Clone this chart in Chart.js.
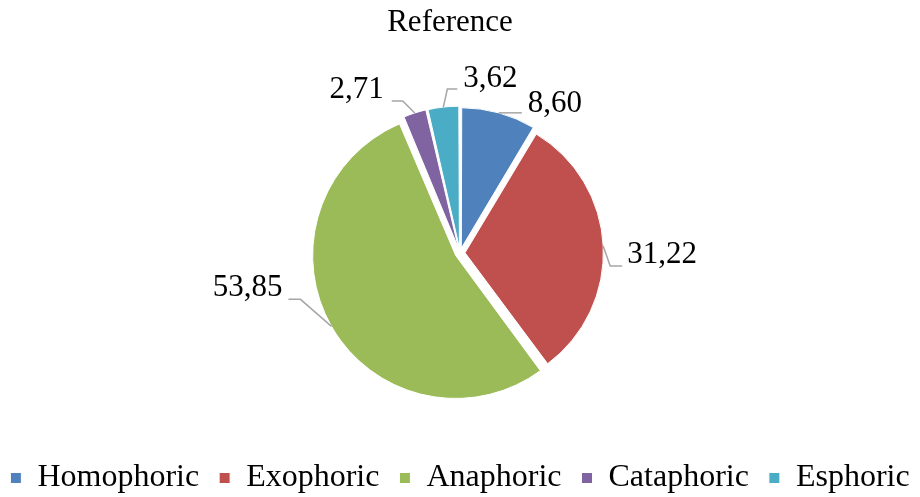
<!DOCTYPE html>
<html>
<head>
<meta charset="utf-8">
<script src="https://cdn.jsdelivr.net/npm/chart.js"></script>
<style>
  html, body { margin: 0; padding: 0; background: #fff; }
</style>
</head>
<body>
<canvas id="chart" width="920" height="497"></canvas>
<script>
const chartTitle = 'Reference';
const categories = ['Homophoric', 'Exophoric', 'Anaphoric', 'Cataphoric', 'Esphoric'];
const percentages = [8.60, 31.22, 53.85, 2.71, 3.62];
const sliceColors = ['#4F81BD', '#C0504D', '#9BBB59', '#8064A2', '#4BACC6'];

// leader line shape for each slice label: elbow offset from slice edge, then flat run
const leaderLayout = [
  { ex: 0, ey: 0, run: 23, gap: 6, ty: -9 },
  { ex: 7, ey: 20, run: 12, gap: 5, ty: -11 },
  { ex: -31, ey: -27, run: -12, gap: 6, ty: -12 },
  { ex: -12, ey: -12, run: -11, gap: 8, ty: -11 },
  { ex: 4, ey: -18, run: 10, gap: 6, ty: -10 }
];

const serif = '"Liberation Serif", "Times New Roman", serif';
Chart.defaults.font.family = serif;

function commaDecimal(v) {
  return v.toFixed(2).replace('.', ',');
}

// title sits a little left of the pie centre in the original, so draw it here
const titleText = {
  id: 'titleText',
  afterDraw(chart) {
    const ctx = chart.ctx;
    const area = chart.chartArea;
    ctx.save();
    ctx.font = '31px ' + serif;
    ctx.fillStyle = '#000';
    ctx.textAlign = 'center';
    ctx.textBaseline = 'middle';
    ctx.fillText(chartTitle, (area.left + area.right) / 2 - 10, 23);
    ctx.restore();
  }
};

const pieLabels = {
  id: 'pieLabels',
  afterDatasetsDraw(chart) {
    const ctx = chart.ctx;
    const meta = chart.getDatasetMeta(0);
    const shift = (chart.data.datasets[0].offset || 0) / 4;
    ctx.save();
    ctx.font = '31px ' + serif;
    ctx.textBaseline = 'middle';
    meta.data.forEach((arc, i) => {
      const p = arc.getProps(['x', 'y', 'startAngle', 'endAngle', 'outerRadius', 'circumference'], true);
      const mid = (p.startAngle + p.endAngle) / 2;
      // same radial growth chart.js applies to offset arcs
      const fix = 1 - Math.sin(Math.min(Math.PI, p.circumference || 0));
      const r = p.outerRadius + shift + shift * fix;
      const ax = p.x + Math.cos(mid) * r;
      const ay = p.y + Math.sin(mid) * r;
      const lay = leaderLayout[i];
      const bx = ax + lay.ex, by = ay + lay.ey;
      const lx = bx + lay.run;
      ctx.strokeStyle = '#A6A6A6';
      ctx.lineWidth = 1.5;
      ctx.beginPath();
      ctx.moveTo(ax, ay);
      ctx.lineTo(bx, by);
      ctx.lineTo(lx, by);
      ctx.stroke();
      ctx.fillStyle = '#000';
      ctx.textAlign = lay.run >= 0 ? 'left' : 'right';
      const tx = lx + (lay.run >= 0 ? lay.gap : -lay.gap);
      ctx.fillText(commaDecimal(percentages[i]), tx, by + lay.ty);
    });
    ctx.restore();
  }
};

new Chart(document.getElementById('chart'), {
  type: 'pie',
  data: {
    labels: categories,
    datasets: [{
      data: percentages,
      backgroundColor: sliceColors,
      borderColor: '#fff',
      borderWidth: 1,
      offset: 20
    }]
  },
  options: {
    responsive: false,
    animation: false,
    radius: 138,
    layout: { padding: { top: 64, right: -12, bottom: -7, left: -12 } },
    plugins: {
      title: { display: false },
      legend: {
        position: 'bottom',
        labels: {
          color: '#000',
          font: { family: serif, size: 32 },
          boxWidth: 11,
          boxHeight: 11,
          padding: 20
        }
      },
      tooltip: { enabled: false }
    }
  },
  plugins: [pieLabels, titleText]
});
</script>
</body>
</html>
